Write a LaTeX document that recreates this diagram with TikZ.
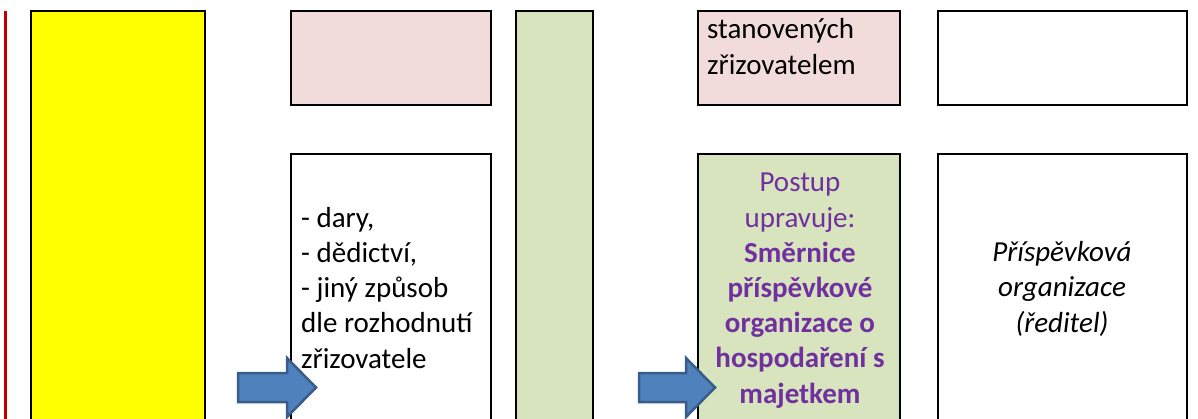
\documentclass[tikz,border=0pt]{standalone}
\usepackage{fontspec}
\setmainfont{Carlito}
\definecolor{redline}{HTML}{C00000}
\definecolor{yel}{HTML}{FFFF00}
\definecolor{pinkbox}{HTML}{F2DCDB}
\definecolor{greenbox}{HTML}{D7E4BD}
\definecolor{purp}{HTML}{7030A0}
\definecolor{arrfill}{HTML}{4F81BD}
\definecolor{arrdraw}{HTML}{385D8A}
\tikzset{
  box/.style={draw=black, line width=2.5pt},
  txt/.style={inner sep=0pt, font=\fontsize{29}{35.2}\selectfont},
  bigarrow/.style={fill=arrfill, draw=arrdraw, line width=2.5pt, line join=miter},
}
\begin{document}
\begin{tikzpicture}[x=1pt,y=-1pt]
\useasboundingbox (0,0) rectangle (1198,418);
\clip (0,0) rectangle (1198,418);
% red line
\draw[redline, line width=3.3pt] (5.5,11) -- (5.5,430);
% columns / boxes
\path[box, fill=yel] (31,11) rectangle (205,440);
\path[box, fill=pinkbox] (291,11) rectangle (491,105);
\path[box, fill=white] (291,154) rectangle (491,440);
\path[box, fill=greenbox] (516,11) rectangle (593,440);
\path[box, fill=pinkbox] (698,11) rectangle (900,105);
\path[box, fill=greenbox] (698,154) rectangle (900,440);
\path[box, fill=white] (938,11) rectangle (1187,105);
\path[box, fill=white] (938,154) rectangle (1187,440);
% texts (base anchor = last line)
\node[txt, anchor=base west, align=left] (t1) at (301,368)
  {- dary,\\- dědictví,\\- jiný způsob\\dle rozhodnutí\\zřizovatele};
\node[txt, anchor=base west, align=left] (t2) at (707,74)
  {stanovených\\zřizovatelem};
\node[txt, anchor=base, align=center, text=purp] (t3) at (800,403)
  {Postup\\upravuje:\\\textbf{Směrnice}\\\textbf{příspěvkové}\\\textbf{organizace o}\\\textbf{hospodaření s}\\\textbf{majetkem}};
\node[txt, anchor=base, align=center, font=\fontsize{29}{35.2}\selectfont\itshape] (t4) at (1062,332)
  {Příspěvková\\organizace\\(ředitel)};
% block arrows
\draw[bigarrow] (238,373) -- (287,373) -- (287,358) -- (316,387.5) -- (287,417) -- (287,402) -- (238,402) -- cycle;
\draw[bigarrow] (639,373) -- (686,373) -- (686,358) -- (715,387.5) -- (686,417) -- (686,402) -- (639,402) -- cycle;
\end{tikzpicture}
\end{document}
